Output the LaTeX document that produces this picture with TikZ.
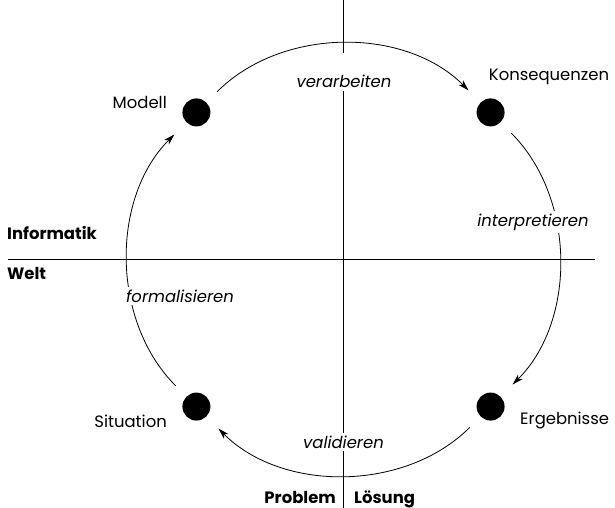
\documentclass[tikz,border=0pt]{standalone}
\usepackage{fontspec}
\setmainfont{Poppins}
\usetikzlibrary{arrows.meta}

\tikzstyle{dot}=[circle, fill=black, minimum size=28bp, inner sep=0pt]
\tikzstyle{state}=[font=\fontsize{16.5}{19}\selectfont, inner sep=0pt]
\tikzstyle{action}=[fill=white, inner sep=3bp, font=\fontsize{16.5}{19}\selectfont\itshape]
\tikzstyle{side}=[inner sep=0pt, font=\fontsize{16.5}{19}\selectfont\bfseries]
\tikzstyle{axis}=[line width=0.8bp]
\tikzstyle{flow}=[line width=0.8bp, -{Stealth[length=11bp,width=6.5bp,inset=3bp]},
                  shorten <=15bp, shorten >=17bp, bend left=45]

\begin{document}
\begin{tikzpicture}[x=1bp, y=1bp]
				\useasboundingbox (-343.5,-248.5) rectangle (271.5,259.5);

				% Axes: Informatik/Welt and Problem/Loesung
				\draw[axis] (-335.5,0) -- (251.5,0);
				\draw[axis] (0,259.5) -- (0,-248.5);

				% The four states of the cycle
				\node[dot] (modell) at (135:208) {};
				\node[dot] (konsequenzen) at (45:208) {};
				\node[dot] (ergebnisse) at (-45:208) {};
				\node[dot] (situation) at (-135:208) {};

				\node[state, anchor=east] (modell label) at (-176.5,157.5) {Modell};
				\node[state] (konsequenzen label) at (205.5,182.5) {Konsequenzen};
				\node[state, anchor=west] (ergebnisse label) at (176.5,-160.5) {Ergebnisse};
				\node[state, anchor=east] (situation label) at (-176.5,-161.5) {Situation};

				% Arcs of the cycle
				\draw[flow] (modell) to (konsequenzen);
				\draw[flow] (konsequenzen) to (ergebnisse);
				\draw[flow] (ergebnisse) to (situation);
				\draw[flow] (situation) to (modell);

				\node[action, text height=32bp, anchor=base] (verarbeiten) at (0.5,171.5) {verarbeiten};
				\node[action] (interpretieren) at (189.5,37.5) {interpretieren};
				\node[action] (validieren) at (0,-182.5) {validieren};
				\node[action] (formalisieren) at (-163.5,-36.5) {formalisieren};

				% Names of the four sides
				\node[side, anchor=west] (informatik) at (-336.5,26.5) {Informatik};
				\node[side, anchor=west] (welt) at (-336.5,-13.5) {Welt};
				\node[side, anchor=base east] (problem) at (-7.5,-244) {Problem};
				\node[side, anchor=base west] (loesung) at (10.5,-244) {Lösung};
\end{tikzpicture}
\end{document}
